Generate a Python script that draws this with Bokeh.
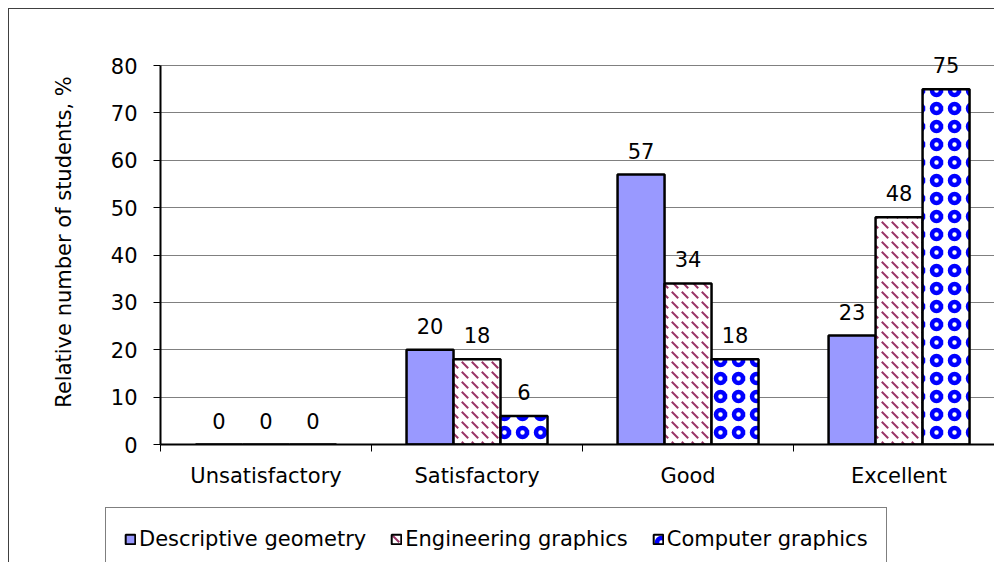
from bokeh.plotting import figure
from bokeh.models import ColumnDataSource, Range1d, FixedTicker, Legend, LegendItem
from bokeh.core.properties import value
from bokeh.embed import file_html
from bokeh.resources import INLINE

# ---- data ----
categories = ["Unsatisfactory", "Satisfactory", "Good", "Excellent"]
series_names = ["Descriptive geometry", "Engineering graphics", "Computer graphics"]
descriptive = [0, 20, 57, 23]
engineering = [0, 18, 34, 48]
computer = [0, 6, 18, 75]
y_ticks = [0, 10, 20, 30, 40, 50, 60, 70, 80]
y_title = "Relative number of students, %"

FONT = "DejaVu Sans"
FS = "21px"
EDGE = "1px solid #404040"

looks = [
    dict(fill_color="#9999FF"),
    dict(fill_color="white", hatch_pattern="left_diagonal_dash",
         hatch_color="#993366", hatch_scale=10, hatch_weight=2),
    dict(fill_color="white", hatch_pattern="ring",
         hatch_color="#0000FF", hatch_scale=18, hatch_weight=4.5),
]

p = figure(width=986, height=483,
           x_range=Range1d(0, 3.957), y_range=Range1d(0, 85.5),
           output_backend="svg", toolbar_location=None,
           min_border_left=151, min_border_top=30, min_border_bottom=48,
           min_border_right=0, outline_line_color=None,
           background_fill_color="white", border_fill_color="white")
p.styles = {"border-left": EDGE, "border-top": EDGE,
            "margin-left": "8px", "margin-top": "8px"}

bar_w = 0.2227
offsets = [-bar_w, 0.0, bar_w]
series = [descriptive, engineering, computer]

for vals, off, look in zip(series, offsets, looks):
    src = ColumnDataSource(dict(
        x=[i + 0.5 + off for i in range(len(categories))],
        top=vals,
        label=[str(v) for v in vals],
    ))
    p.vbar(x="x", top="top", width=bar_w, bottom=0, source=src,
           line_color="black", line_width=2.5, **look)
    p.text(x="x", y="top", text="label", source=src,
           text_font=value(FONT), text_font_size=value(FS),
           text_align="center", text_baseline="alphabetic",
           y_offset=-24, text_color="black")

# y axis
p.yaxis.ticker = FixedTicker(ticks=y_ticks)
p.yaxis.bounds = (0, 80)
p.yaxis.axis_label = y_title
p.yaxis.axis_label_text_font = FONT
p.yaxis.axis_label_text_font_size = FS
p.yaxis.axis_label_text_font_style = "normal"
p.yaxis.axis_label_text_color = "black"
p.yaxis.axis_label_standoff = 32
p.yaxis.major_label_text_font = FONT
p.yaxis.major_label_text_font_size = FS
p.yaxis.major_label_text_color = "black"
p.yaxis.major_label_standoff = 16
p.yaxis.major_tick_out = 7
p.yaxis.major_tick_in = 0
p.yaxis.minor_tick_line_color = None
p.yaxis.axis_line_color = "black"
p.yaxis.axis_line_width = 2
p.yaxis.major_tick_line_color = "black"

# x axis
p.xaxis.ticker = FixedTicker(ticks=[i + 0.5 for i in range(len(categories))],
                             minor_ticks=list(range(len(categories) + 1)))
p.xaxis.major_label_overrides = {i + 0.5: c for i, c in enumerate(categories)}
p.xaxis.major_label_text_font = FONT
p.xaxis.major_label_text_font_size = FS
p.xaxis.major_label_text_color = "black"
p.xaxis.major_label_standoff = 12
p.xaxis.major_tick_out = 0
p.xaxis.major_tick_in = 0
p.xaxis.minor_tick_out = 7
p.xaxis.minor_tick_in = 0
p.xaxis.minor_tick_line_color = "black"
p.xaxis.axis_line_color = "black"
p.xaxis.axis_line_width = 2

p.xgrid.visible = False
p.ygrid.grid_line_color = "#808080"
p.ygrid.grid_line_width = 1

# ---- legend strip (separate root directly below) ----
lg = figure(width=986, height=71, x_range=Range1d(0, 1), y_range=Range1d(0, 1),
            output_backend="svg", toolbar_location=None,
            x_axis_type=None, y_axis_type=None,
            min_border=0, outline_line_color=None,
            background_fill_color="white", border_fill_color="white")
lg.grid.visible = False
lg.styles = {"border-left": EDGE, "margin-left": "8px"}

swatches = []
for look in looks:
    # swatch renderers sit outside the visible range; only their legend glyphs show
    swatches.append(lg.vbar(x=[10], top=[1], width=0.1, bottom=0,
                            line_color="black", line_width=2, **look))

legend = Legend(
    items=[LegendItem(label=n, renderers=[r]) for n, r in zip(series_names, swatches)],
    orientation="horizontal", location=(96, -8),
    padding=18, spacing=24, label_standoff=3,
    glyph_width=12, glyph_height=12, label_height=25,
    label_text_font=FONT, label_text_font_size=FS, label_text_color="black",
    border_line_color="black", border_line_width=1,
    background_fill_color="white", background_fill_alpha=1.0,
    margin=0,
)
lg.add_layout(legend, "center")

open("out.html", "w").write(file_html([p, lg], INLINE))
